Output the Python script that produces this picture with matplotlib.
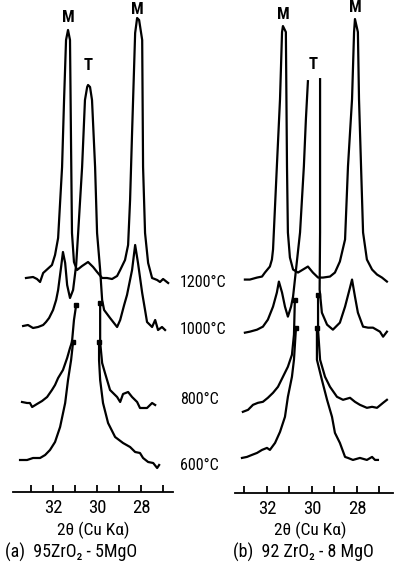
import numpy as np
import matplotlib.pyplot as plt

plt.rcParams["font.family"] = ["Roboto Condensed", "Archivo Narrow", "PT Sans Narrow",
                               "Liberation Sans Narrow", "DejaVu Sans"]

TEMPS = ["1200°C", "1000°C", "800°C", "600°C"]

# stacking baselines for each temperature (a.u.)
OFFSETS_A = [214, 165, 89, 32]
OFFSETS_B = [215, 163, 90, 36]

# (2theta, intensity) traces; None marks where a peak runs under the trace above
A_1200 = [(33.23, 0), (32.91, 1), (32.73, -1), (32.59, -4), (32.45, 5), (32.05, 13),
          (31.91, 23), (31.77, 40), (31.59, 111), (31.50, 178), (31.41, 238), (31.32, 248),
          (31.23, 238), (31.18, 128), (31.14, 45), (31.05, 16), (30.91, 8), (30.68, 12),
          (30.41, 16), (30.18, 11), (30.00, 6), (29.77, 0), (29.55, 0), (29.32, -1),
          (29.09, 2), (28.95, 8), (28.73, 18), (28.59, 33), (28.50, 78), (28.41, 145),
          (28.27, 245), (28.18, 260), (28.09, 258), (27.95, 238), (27.91, 111), (27.82, 45),
          (27.68, 15), (27.50, 0), (27.27, -2), (27.14, -4), (27.00, -1), (26.77, -5)]
A_1000 = [(33.36, 1), (33.14, 2), (32.91, -1), (32.68, 0), (32.45, 2), (32.32, 5),
          (32.18, 9), (32.00, 17), (31.86, 27), (31.77, 37), (31.64, 59), (31.55, 75),
          (31.45, 64), (31.36, 42), (31.23, 29), (31.09, 37), (30.95, 62), (30.86, 94),
          (30.68, 160), (30.55, 227), (30.45, 240), (30.41, 242), (30.32, 240), (30.23, 227),
          (30.09, 160), (30.00, 94), (29.86, 57), (29.77, 27), (29.68, 17), (29.41, 9),
          (29.09, 0), (28.95, 7), (28.77, 22), (28.64, 32), (28.41, 57), (28.27, 82),
          (28.14, 64), (27.95, 34), (27.82, 17), (27.73, 5), (27.50, 0), (27.36, 7),
          (27.23, -3), (27.05, 0), (26.91, -3)]
A_800 = [(33.41, 1), (33.18, 0), (33.05, 0), (32.95, -4), (32.73, -1), (32.50, 2),
         (32.27, 6), (32.05, 13), (31.91, 18), (31.77, 25), (31.55, 33), (31.36, 45),
         (31.23, 55), (31.14, 61), (31.05, 83), (30.95, 98), None,
         (29.86, 100), (29.86, 61), (29.77, 40), (29.64, 30), (29.41, 13), (29.09, 6),
         (28.95, 1), (28.82, 9), (28.59, 11), (28.41, 6), (28.18, 1), (28.05, -5),
         (27.73, -5), (27.50, 0), (27.36, -2)]
A_600 = [(33.50, 0), (33.18, 0), (32.91, 2), (32.59, 2), (32.36, 5), (32.14, 10),
         (31.91, 18), (31.68, 33), (31.45, 57), (31.32, 80), (31.18, 100), (31.09, 118), None,
         (29.91, 118), (29.91, 100), (29.86, 80), (29.73, 57), (29.50, 37), (29.18, 23),
         (28.82, 17), (28.50, 13), (28.27, 8), (28.05, 7), (27.91, 2), (27.68, -2),
         (27.45, -3), (27.27, -8), (27.18, -5)]

B_1200 = [(32.98, -2), (32.76, -2), (32.44, 0), (32.22, 1), (32.09, 5), (31.87, 11),
          (31.78, 18), (31.73, 28), (31.56, 111), (31.42, 178), (31.33, 245), (31.29, 251),
          (31.16, 245), (31.11, 111), (31.07, 45), (30.98, 20), (30.84, 8), (30.62, 5),
          (30.40, 8), (30.18, 11), (29.96, 5), (29.73, 0), (29.51, 0), (29.20, 1),
          (28.98, 5), (28.76, 16), (28.53, 38), (28.40, 111), (28.22, 178), (28.13, 245),
          (28.09, 258), (27.96, 245), (27.91, 178), (27.82, 111), (27.73, 45), (27.56, 18),
          (27.33, 8), (27.11, 3), (26.89, 0), (26.67, -4)]
B_1000 = [(32.98, -3), (32.76, -2), (32.44, 0), (32.18, 3), (31.96, 10), (31.73, 23),
          (31.56, 37), (31.47, 48), (31.33, 37), (31.20, 23), (31.07, 13), (30.93, 23),
          (30.84, 33), (30.53, 97), (30.36, 163), (30.27, 210), (30.18, 248), None,
          (29.64, 250), (29.64, 163), (29.64, 97), (29.66, 40), (29.56, 17), (29.33, 5),
          (29.07, 0), (28.76, 7), (28.53, 23), (28.31, 42), (28.22, 50), (28.09, 33),
          (27.96, 17), (27.73, 3), (27.51, 2), (27.29, 2), (26.98, -2), (26.84, -7),
          (26.67, -2)]
B_800 = [(33.07, -9), (32.84, -7), (32.62, -2), (32.40, 0), (32.18, 1), (31.96, 5),
         (31.73, 10), (31.51, 16), (31.29, 26), (31.07, 36), (30.89, 48), (30.80, 68),
         (30.76, 103), None,
         (29.73, 108), (29.73, 73), (29.64, 43), (29.42, 26), (29.20, 16), (28.89, 6),
         (28.62, 3), (28.31, 5), (28.09, 1), (27.87, -2), (27.56, -5), (27.33, -4),
         (27.11, -5), (26.84, 0), (26.67, 3)]
B_600 = [(33.11, -1), (32.89, 0), (32.67, 2), (32.44, 4), (32.22, 7), (32.00, 9),
         (31.87, 7), (31.64, 14), (31.42, 25), (31.20, 40), (31.07, 60), (30.89, 80),
         (30.80, 97), (30.71, 129), None,
         (29.78, 129), (29.78, 97), (29.56, 77), (29.33, 57), (29.11, 40), (28.98, 24),
         (28.76, 14), (28.53, 0), (28.40, -1), (28.18, -3), (27.87, -1), (27.56, -3),
         (27.33, 0), (27.20, -3), (27.07, -3)]

PEAKS_A = [("M", 31.32, 474), ("T", 30.41, 427), ("M", 28.18, 482)]
PEAKS_B = [("M", 31.29, 478), ("T", 29.95, 428), ("M", 28.09, 485)]

TICKS = [33, 32, 31, 30, 29, 28, 27]
TICK_LABELS = ["", "32", "", "30", "", "28", ""]

W, H = 396, 563
fig = plt.figure(figsize=(W / 100, H / 100), dpi=100)


def px(x, y):
    return x / W, 1 - y / H


def draw_panel(rect, xlim, traces, offsets, peaks, marked):
    ax = fig.add_axes(rect)
    for name, trace, off in zip(TEMPS, traces, offsets):
        xs = [np.nan if p is None else p[0] for p in trace]
        ys = [np.nan if p is None else p[1] + off for p in trace]
        ax.plot(xs, ys, color="black", lw=1.6, solid_joinstyle="round")
        if name in marked:
            for i, p in enumerate(trace):
                if p is None:
                    for q in (trace[i - 1], trace[i + 1]):
                        ax.plot(q[0], q[1] + off, "s", color="black", ms=3.5)
    for lab, x, y in peaks:
        ax.text(x, y, lab, ha="center", va="center", fontsize=12, fontweight="bold")
    ax.set_xlim(*xlim)
    ax.set_ylim(0, 492)
    for s in ("left", "right", "top"):
        ax.spines[s].set_visible(False)
    ax.spines["bottom"].set_linewidth(1.3)
    ax.set_yticks([])
    ax.set_xticks(TICKS)
    ax.set_xticklabels(TICK_LABELS)
    ax.tick_params(axis="x", direction="in", length=5, width=1.3, pad=5, labelsize=13.5)
    ax.patch.set_visible(False)
    return ax


x0, y0 = px(13, 492)
draw_panel([x0, y0, 160 / W, 492 / H], (33.82, 26.55),
           [A_1200, A_1000, A_800, A_600], OFFSETS_A, PEAKS_A, ("800°C", "600°C"))
x0, y0 = px(235, 493)
draw_panel([x0, y0, 158 / W, 493 / H], (33.42, 26.40),
           [B_1200, B_1000, B_800, B_600], OFFSETS_B, PEAKS_B, ("800°C", "600°C"))

# temperature labels between the panels
for lab, y in zip(TEMPS, [283, 330, 400, 466]):
    fig.text(*px(180, y), lab, ha="left", va="center", fontsize=11.5)

for xc in (93, 310):
    fig.text(*px(xc, 530), "2θ (Cu Kα)", ha="center", va="center", fontsize=12.5)
fig.text(*px(5, 552), "(a)  95ZrO₂ - 5MgO", ha="left", va="center", fontsize=13)
fig.text(*px(233, 552), "(b)  92 ZrO₂ - 8 MgO", ha="left", va="center", fontsize=13)

fig.savefig("out.png", dpi=100)
